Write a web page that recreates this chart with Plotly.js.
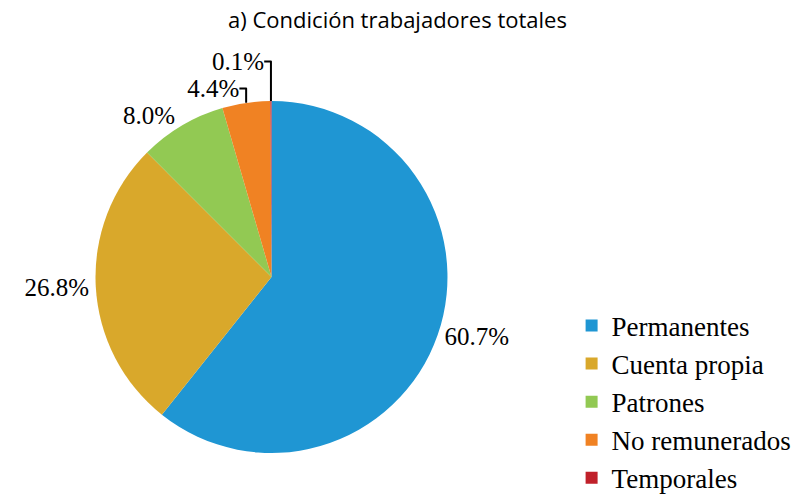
<!DOCTYPE html>
<html>
<head>
<meta charset="utf-8">
<script src="https://cdn.plot.ly/plotly-3.0.1.min.js"></script>
<style>html,body{margin:0;padding:0;background:#fff}#chart{width:795px;height:494px}</style>
</head>
<body>
<div id="chart"></div>
<script>
const categories = ["Permanentes", "Cuenta propia", "Patrones", "No remunerados", "Temporales"];
const shares = [60.7, 26.8, 8.0, 4.4, 0.1];
const sliceColors = ["#1f96d3", "#d9a82b", "#92c953", "#f08223", "#c0202a"];
const chartTitle = "a) Condición trabajadores totales";

const serif = "'Liberation Serif', 'Times New Roman', Times, serif";

const trace = {
  type: "pie",
  labels: categories,
  values: shares,
  sort: false,
  direction: "clockwise",
  rotation: 0,
  marker: {colors: sliceColors, line: {width: 0}},
  textposition: "outside",
  texttemplate: "%{value:.1f}%",
  textfont: {family: serif, size: 25, color: "#000"},
  hoverinfo: "label+value",
  domain: {x: [0.1201, 0.5629], y: [0.083, 0.7955]},
  automargin: false
};

const layout = {
  width: 795, height: 494,
  margin: {l: 0, r: 0, t: 0, b: 0, autoexpand: false},
  paper_bgcolor: "#fff",
  title: {text: chartTitle, x: 0.5, xanchor: "center", y: 0.958, yanchor: "middle",
          font: {family: "'Open Sans', sans-serif", size: 22, color: "#000"}},
  showlegend: true,
  legend: {x: 0.719, xanchor: "left", y: -0.017, yanchor: "bottom",
           font: {family: serif, size: 27, color: "#000"},
           itemwidth: 30, tracegroupgap: 0}
};

Plotly.newPlot("chart", [trace], layout, {displayModeBar: false, staticPlot: true});
</script>
</body>
</html>
